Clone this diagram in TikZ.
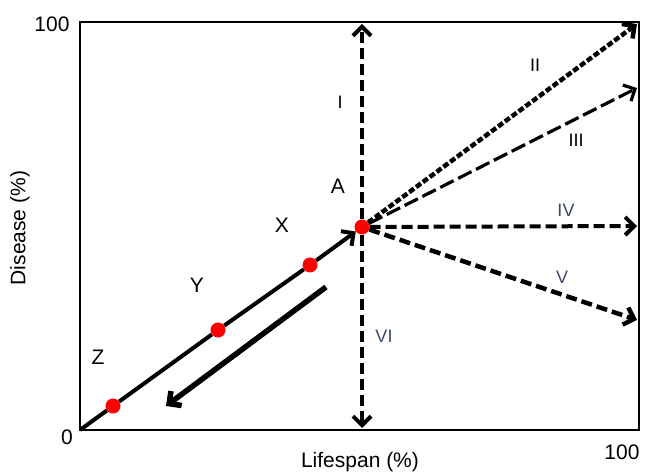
\documentclass[tikz,border=0pt]{standalone}
\usepackage{fontspec}
\setmainfont{Liberation Sans}
\usetikzlibrary{arrows.meta}
\definecolor{slate}{RGB}{60,72,105}
\tikzset{
  dot/.style={circle,fill=red,inner sep=0pt,minimum size=15pt},
  lbl/.style={font=\fontsize{21}{24}\selectfont},
  rom/.style={font=\fontsize{18}{21}\selectfont},
  tip/.style={-{Straight Barb[length=9pt,width=18pt]}}
}
\begin{document}
\begin{tikzpicture}[x=1pt,y=-1pt]
\useasboundingbox (0,0) rectangle (649,473);

% frame
\draw[line width=2.6pt] (80,22) rectangle (639,430);
\coordinate (o) at (80,430);

% points on the line
\node[dot] (z) at (113,406) {};
\node[dot] (y) at (218,330) {};
\node[dot] (x) at (310,265) {};
\node[dot] (a) at (362,227) {};

% ends of the arrows
\coordinate (e1) at (362,24);
\coordinate (e2) at (637,24);
\coordinate (e3) at (637,88);
\coordinate (e4) at (637,226);
\coordinate (e5) at (637,320);
\coordinate (e6) at (362,428);

% line to A
\draw[tip,line width=4pt] (o) -- (z) -- (y) -- (x) -- (a);

% outcomes from A
\draw[tip,line width=4pt,dash pattern=on 11pt off 5pt] (a) -- (e1);
\draw[tip,line width=4.5pt,dash pattern=on 6pt off 2.5pt] (a) -- (e2);
\draw[tip,line width=3.2pt,dash pattern=on 15pt off 5pt] (a) -- (e3);
\draw[tip,line width=4pt,dash pattern=on 11pt off 5pt] (a) -- (e4);
\draw[tip,line width=4.5pt,dash pattern=on 11pt off 5pt] (a) -- (e5);
\draw[tip,line width=4pt,dash pattern=on 11pt off 5pt] (a) -- (e6);

% backwards arrow
\coordinate (b1) at (326,287);
\coordinate (b2) at (166,406);
\draw[tip,line width=5.5pt] (b1) -- (b2);

% labels
\node[lbl] (la) at (338,186) {A};
\node[lbl] (lx) at (282,225) {X};
\node[lbl] (ly) at (197,285) {Y};
\node[lbl] (lz) at (98,357) {Z};
\node[rom] (r1) at (340,102) {I};
\node[rom] (r2) at (535,65) {II};
\node[rom] (r3) at (576,140) {III};
\node[rom,text=slate] (r4) at (566,210) {IV};
\node[rom,text=slate] (r5) at (562,277) {V};
\node[rom,text=slate] (r6) at (384,336) {VI};

% axes
\node[lbl] (t100) at (52,24) {100};
\node[lbl] (t0) at (67,437) {0};
\node[lbl] (r100) at (622,452) {100};
\node[lbl] (xlab) at (360,462) {Lifespan (\%)};
\node[lbl,rotate=90] (ylab) at (20,228) {Disease (\%)};
\end{tikzpicture}
\end{document}
